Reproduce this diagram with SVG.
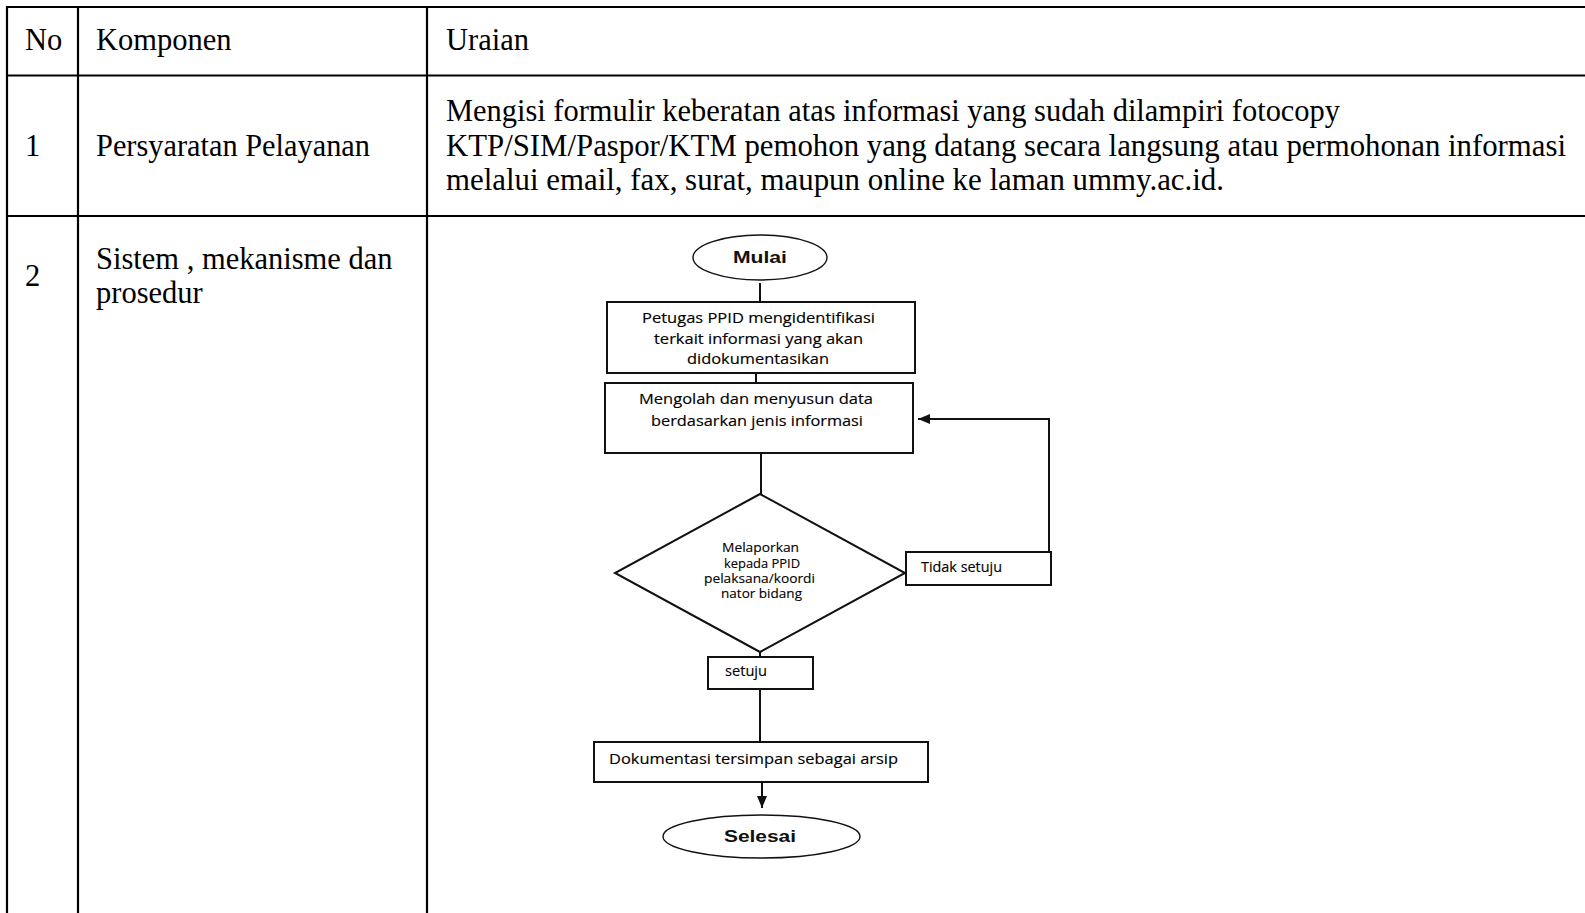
<svg xmlns="http://www.w3.org/2000/svg" width="1585" height="913" viewBox="0 0 1585 913">
<defs>
<style>
.grid{stroke:#000;stroke-width:2.2;fill:none}
.tt{font-family:"Liberation Serif","Times New Roman",serif;font-size:30.5px;fill:#000}
.box{fill:#fff;stroke:#111;stroke-width:2}
.term{fill:#fff;stroke:#111;stroke-width:1.4}
.ft{font-family:"Open Sans","Noto Sans",sans-serif;font-size:14.5px;fill:#000;stroke:#000;stroke-width:0.15}
.dt{font-family:"Open Sans","Noto Sans",sans-serif;font-size:12.5px;fill:#000;stroke:#000;stroke-width:0.12}
.bt{font-family:"Liberation Sans",Arial,sans-serif;font-weight:bold;fill:#111}
.con{stroke:#111;stroke-width:2;fill:none}
</style>
<marker id="ah" viewBox="0 0 12 10" refX="12" refY="5" markerWidth="12" markerHeight="10" markerUnits="userSpaceOnUse" orient="auto">
<path d="M0,0 L12,5 L0,10 z" fill="#111"/>
</marker>
</defs>
<rect width="1585" height="913" fill="#fff"/>
<g id="table">
<line class="grid" x1="6" y1="7" x2="1585" y2="7"/>
<line class="grid" x1="6" y1="75.5" x2="1585" y2="75.5"/>
<line class="grid" x1="6" y1="216" x2="1585" y2="216"/>
<line class="grid" x1="7" y1="6" x2="7" y2="913"/>
<line class="grid" x1="78" y1="6" x2="78" y2="913"/>
<line class="grid" x1="427" y1="6" x2="427" y2="913"/>
<text class="tt" x="25" y="50">No</text>
<text class="tt" x="96" y="50">Komponen</text>
<text class="tt" x="446" y="50">Uraian</text>
<text class="tt" x="25" y="155.5">1</text>
<text class="tt" x="96" y="155.5" textLength="274" lengthAdjust="spacingAndGlyphs">Persyaratan Pelayanan</text>
<text class="tt" x="446" y="121" textLength="894" lengthAdjust="spacingAndGlyphs">Mengisi formulir keberatan atas informasi yang sudah dilampiri fotocopy</text>
<text class="tt" x="446" y="155.5" textLength="1120" lengthAdjust="spacingAndGlyphs">KTP/SIM/Paspor/KTM pemohon yang datang secara langsung atau permohonan informasi</text>
<text class="tt" x="446" y="190" textLength="778" lengthAdjust="spacingAndGlyphs">melalui email, fax, surat, maupun online ke laman ummy.ac.id.</text>
<text class="tt" x="25" y="286">2</text>
<text class="tt" x="96" y="269">Sistem , mekanisme dan</text>
<text class="tt" x="96" y="303">prosedur</text>
</g>
<g id="connectors">
<line class="con" x1="760" y1="283" x2="760" y2="302"/>
<line class="con" x1="756" y1="373" x2="756" y2="383"/>
<line class="con" x1="761" y1="454" x2="761" y2="494"/>
<line class="con" x1="760" y1="639" x2="760" y2="657"/>
<line class="con" x1="760" y1="689" x2="760" y2="742"/>
<line class="con" x1="762" y1="782" x2="762" y2="808" marker-end="url(#ah)"/>
<polyline class="con" points="1049,552 1049,419 918,419" marker-end="url(#ah)"/>
</g>
<g id="mulai">
<ellipse class="term" cx="760" cy="257.5" rx="67" ry="22.5"/>
<text class="bt" x="760" y="263" font-size="17" text-anchor="middle" textLength="54" lengthAdjust="spacingAndGlyphs">Mulai</text>
</g>
<g id="identifikasi">
<rect class="box" x="607" y="302" width="308" height="71"/>
<text class="ft" x="642" y="323" textLength="233" lengthAdjust="spacingAndGlyphs">Petugas PPID mengidentifikasi</text>
<text class="ft" x="654" y="344" textLength="209" lengthAdjust="spacingAndGlyphs">terkait informasi yang akan</text>
<text class="ft" x="687" y="364" textLength="142" lengthAdjust="spacingAndGlyphs">didokumentasikan</text>
</g>
<g id="mengolah">
<rect class="box" x="605" y="383" width="308" height="70"/>
<text class="ft" x="639" y="404" textLength="234" lengthAdjust="spacingAndGlyphs">Mengolah dan menyusun data</text>
<text class="ft" x="651" y="426" textLength="212" lengthAdjust="spacingAndGlyphs">berdasarkan jenis informasi</text>
</g>
<g id="melaporkan">
<polygon class="box" points="760,494 905,573 760,652 615,573"/>
<text class="dt" x="722" y="552" textLength="77" lengthAdjust="spacingAndGlyphs">Melaporkan</text>
<text class="dt" x="724" y="567.5" textLength="76" lengthAdjust="spacingAndGlyphs">kepada PPID</text>
<text class="dt" x="704" y="583" textLength="111" lengthAdjust="spacingAndGlyphs">pelaksana/koordi</text>
<text class="dt" x="721" y="598" textLength="81" lengthAdjust="spacingAndGlyphs">nator bidang</text>
</g>
<g id="tidak-setuju">
<rect class="box" x="906" y="552" width="145" height="33"/>
<text class="ft" x="921" y="572" textLength="81" lengthAdjust="spacingAndGlyphs">Tidak setuju</text>
</g>
<g id="setuju">
<rect class="box" x="708" y="657" width="105" height="32"/>
<text class="ft" x="725" y="676" textLength="42" lengthAdjust="spacingAndGlyphs">setuju</text>
</g>
<g id="dokumentasi">
<rect class="box" x="594" y="742" width="334" height="40"/>
<text class="ft" x="609" y="764" textLength="289" lengthAdjust="spacingAndGlyphs">Dokumentasi tersimpan sebagai arsip</text>
</g>
<g id="selesai">
<ellipse class="term" cx="761.5" cy="836.5" rx="98.5" ry="21.5"/>
<text class="bt" x="760" y="842" font-size="16" text-anchor="middle" textLength="72" lengthAdjust="spacingAndGlyphs">Selesai</text>
</g>
</svg>
